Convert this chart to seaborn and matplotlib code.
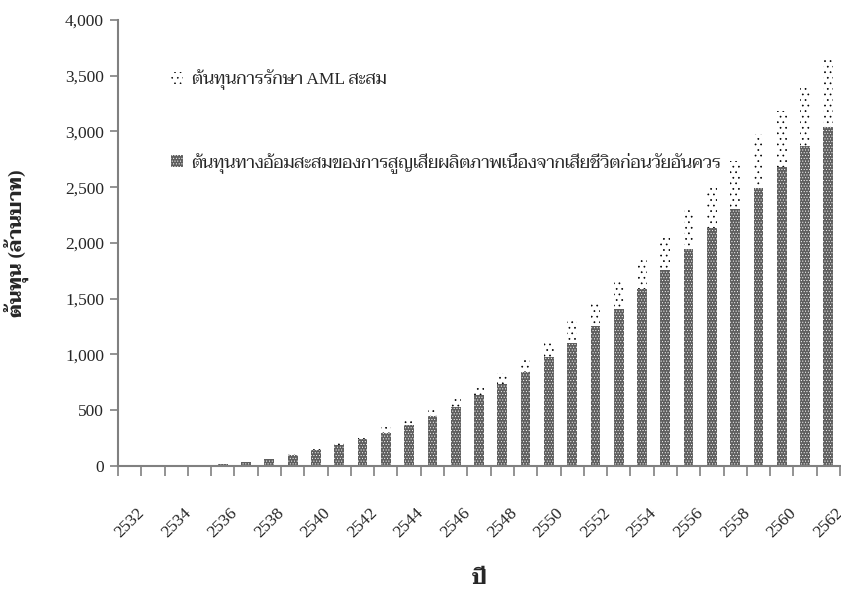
import numpy as np
import pandas as pd
import matplotlib
matplotlib.use('Agg')
import matplotlib.pyplot as plt
import matplotlib.transforms as mtransforms
import seaborn as sns

# ปี พ.ศ. 2532 - 2562
years = [str(y) for y in range(2532, 2563)]
# ต้นทุนทางอ้อม (ล้านบาท) สะสม
indirect_cost = [0, 0, 0, 2, 15, 36, 63, 100, 146, 185, 239, 293, 370, 451, 529, 639,
                 736, 841, 976, 1107, 1254, 1412, 1590, 1760, 1948, 2134, 2307, 2496,
                 2682, 2867, 3042]
# ต้นทุนการรักษา AML สะสม
treatment_cost = [0, 0, 0, 0, 1, 3, 6, 12, 27, 42, 41, 54, 51, 66, 95, 89,
                  102, 140, 146, 189, 225, 249, 280, 314, 344, 380, 426, 482,
                  506, 548, 603]

label_treat = 'ต้นทุนการรักษา AML สะสม'
label_indirect = 'ต้นทุนทางอ้อมสะสมของการสูญเสียผลิตภาพเนื่องจากเสียชีวิตก่อนวัยอันควร'

data = pd.DataFrame({'year': years, 'indirect': indirect_cost, 'treat': treatment_cost})
data['total'] = data['indirect'] + data['treat']

sns.set_style('white')
thai = ['Liberation Serif', 'Taviraj', 'Trirong', 'Noto Serif Thai', 'DejaVu Sans']
plt.rcParams['font.family'] = thai

fig = plt.figure(figsize=(8.41, 5.9), dpi=100)
ax = fig.add_axes([0.1403, 0.2102, 0.8585, 0.7559])

# total first (sparse dots), indirect drawn on top (dense dots)
plt.rcParams['hatch.linewidth'] = 0.5
sns.barplot(data=data, x='year', y='total', color='white', edgecolor='black',
            linewidth=0, hatch='...', width=0.42, label=label_treat, ax=ax)
plt.rcParams['hatch.linewidth'] = 0.4
sns.barplot(data=data, x='year', y='indirect', color='#5e5e5e', edgecolor='white',
            linewidth=0, hatch='......', width=0.42, label=label_indirect, ax=ax)

ax.set_ylim(0, 4000)
ax.set_xlim(-0.5, len(years) - 0.5)
ax.set_yticks(range(0, 4001, 500))
ax.set_yticklabels(['{:,}'.format(v) for v in range(0, 4001, 500)], fontsize=12.5)

# ticks between categories, labels every 2 years
ax.set_xticks(np.arange(-0.5, len(years), 1.0))
ax.set_xticklabels([])
ax.set_xticks(range(0, len(years), 2), minor=True)
ax.set_xticklabels(years[::2], minor=True, rotation=45, ha='center', fontsize=12.5)
shift = mtransforms.ScaledTranslation(-7 / 100, 0, fig.dpi_scale_trans)
for lab in ax.get_xticklabels(minor=True):
    lab.set_transform(lab.get_transform() + shift)
ax.tick_params(axis='x', which='major', direction='out', length=7, color='#808080',
               width=1.2, bottom=True)
ax.tick_params(axis='x', which='minor', length=0, pad=28)
ax.tick_params(axis='y', direction='out', length=6, color='#808080', width=1.2,
               left=True, pad=4)

for s in ['top', 'right']:
    ax.spines[s].set_visible(False)
for s in ['left', 'bottom']:
    ax.spines[s].set_color('#808080')
    ax.spines[s].set_linewidth(1.5)

ax.set_xlabel('ปี', fontsize=15, fontweight='bold', labelpad=20)
ax.set_ylabel('ต้นทุน (ล้านบาท)', fontsize=14, fontweight='bold', labelpad=26)

ax.legend(loc='upper left', bbox_to_anchor=(0.073, 0.89), frameon=False,
          fontsize=12.5, handlelength=0.7, handleheight=0.7, handletextpad=0.5,
          labelspacing=3.6, borderpad=0, borderaxespad=0)

fig.savefig('out.png', dpi=100)
